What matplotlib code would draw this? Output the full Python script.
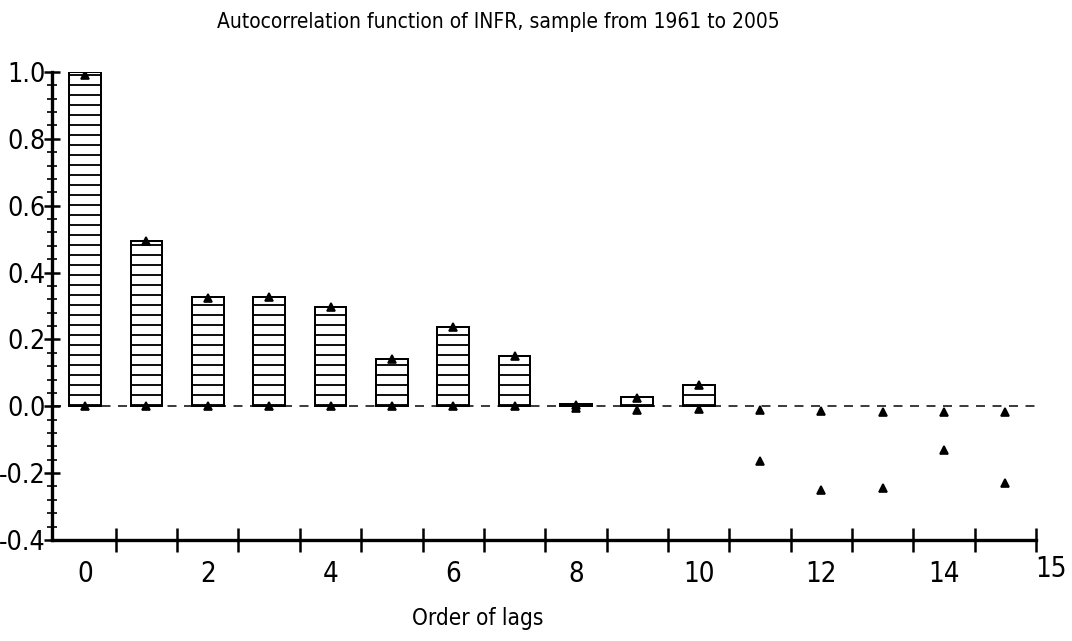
import numpy as np
import matplotlib.pyplot as plt
from matplotlib.ticker import MultipleLocator, FixedLocator

plt.rcParams['font.family'] = ['DejaVu Sans']
plt.rcParams['font.stretch'] = 'condensed'
plt.rcParams['hatch.linewidth'] = 1.1

# data
bar_lags = np.arange(0, 11)
bar_acf = [1.0, 0.495, 0.327, 0.328, 0.298, 0.141, 0.238, 0.15, 0.006, 0.027, 0.063]
lags = np.arange(0, 16)
acf_points = [0.99, 0.495, 0.325, 0.328, 0.297, 0.142, 0.237, 0.15, 0.005, 0.025, 0.065,
              -0.165, -0.25, -0.245, -0.13, -0.23]
base_points = [0.0, 0.0, 0.0, 0.0, 0.0, 0.0, 0.0, 0.0, -0.004, -0.01, -0.009,
               -0.012, -0.015, -0.016, -0.016, -0.017]
label_lags = [0, 2, 4, 6, 8, 10, 12, 14]
yticks = [-0.4, -0.2, 0.0, 0.2, 0.4, 0.6, 0.8, 1.0]

fig = plt.figure(figsize=(1072 / 120, 641 / 120), dpi=120)
ax = fig.add_axes([0.0485, 0.1576, 0.9179, 0.7301])

ax.bar(bar_lags, bar_acf, width=0.52, color='white', edgecolor='black',
       linewidth=1.2, hatch='--', zorder=2)
ax.axhline(0, color='black', lw=0.9, ls=(0, (6, 5)), zorder=1)
ax.plot(lags, acf_points, '^', color='black', ms=5, zorder=3)
ax.plot(lags, base_points, '^', color='black', ms=5, zorder=3)

ax.set_xlim(-0.54, 15.5)
ax.set_ylim(-0.4, 1.0)

for s in ['top', 'right']:
    ax.spines[s].set_visible(False)
for s in ['left', 'bottom']:
    ax.spines[s].set_linewidth(2.0)

# x axis: tick marks between bars, labels under bars
ax.xaxis.set_major_locator(FixedLocator(np.arange(0.5, 16, 1.0)))
ax.xaxis.set_minor_locator(FixedLocator(label_lags))
ax.xaxis.set_minor_formatter(plt.FixedFormatter([str(v) for v in label_lags]))
ax.tick_params(axis='x', which='major', direction='inout', length=14, width=1.5,
               labelbottom=False)
ax.tick_params(axis='x', which='minor', length=0, pad=12, labelsize=16.5)
ax.text(15.75, -0.445, '15', ha='center', va='top', fontsize=16.5, clip_on=False)

# y axis
ax.set_yticks(yticks)
ax.set_yticklabels(['%.1f' % v for v in yticks])
ax.yaxis.set_minor_locator(MultipleLocator(0.04))
ax.tick_params(axis='y', which='major', direction='inout', length=10, width=1.5,
               labelsize=16, pad=-1)
ax.tick_params(axis='y', which='minor', direction='inout', length=6, width=1.0)

fig.text(0.465, 1 - 28 / 641, 'Autocorrelation function of INFR, sample from 1961 to 2005',
         ha='center', va='baseline', fontsize=12.5)
fig.text(0.446, 1 - 625 / 641, 'Order of lags', ha='center', va='baseline', fontsize=13.5)

fig.savefig('out.png', dpi=120)
